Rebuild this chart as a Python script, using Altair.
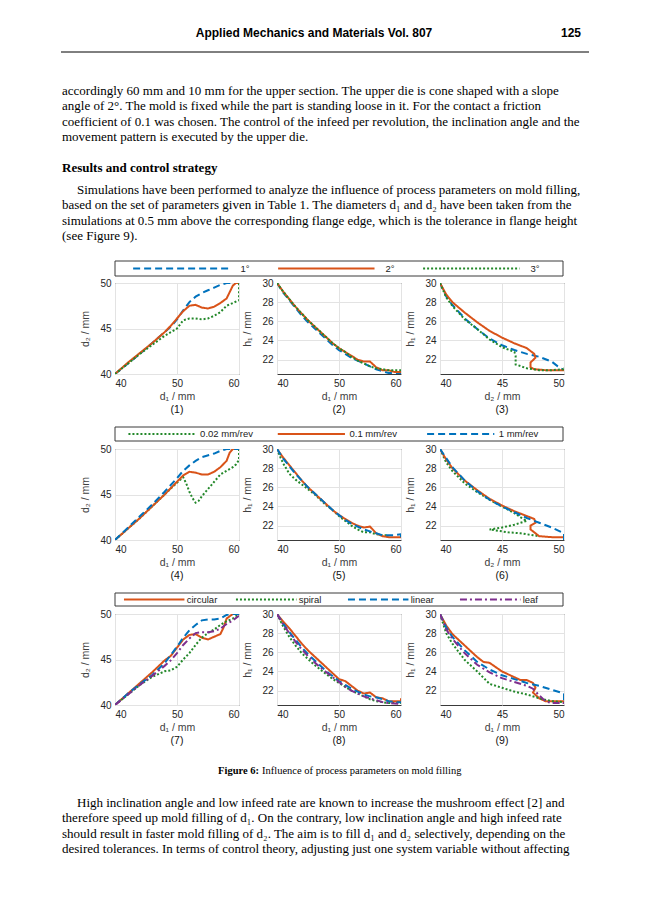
import altair as alt
import pandas as pd

SANS = "Liberation Sans"
SERIF = "Liberation Serif"

# ---------------- page text ----------------
HEADER = "Applied Mechanics and Materials Vol. 807"
PAGE_NO = "125"
PARA1 = [
    "accordingly 60 mm and 10 mm for the upper section. The upper die is cone shaped with a slope",
    "angle of 2°. The mold is fixed while the part is standing loose in it. For the contact a friction",
    "coefficient of 0.1 was chosen. The control of the infeed per revolution, the inclination angle and the",
    "movement pattern is executed by the upper die.",
]
HEADING = "Results and control strategy"
PARA2_FIRST = "Simulations have been performed to analyze the influence of process parameters on mold filling,"
PARA2_REST = [
    "based on the set of parameters given in Table 1. The diameters d₁ and d₂ have been taken from the",
    "simulations at 0.5 mm above the corresponding flange edge, which is the tolerance in flange height",
    "(see Figure 9).",
]
CAPTION_BOLD = "Figure 6:"
CAPTION_TEXT = "Influence of process parameters on mold filling"
PARA3_FIRST = "High inclination angle and low infeed rate are known to increase the mushroom effect [2] and"
PARA3_REST = [
    "therefore speed up mold filling of d₁. On the contrary, low inclination angle and high infeed rate",
    "should result in faster mold filling of d₂. The aim is to fill d₁ and d₂ selectively, depending on the",
    "desired tolerances. In terms of control theory, adjusting just one system variable without affecting",
]

# ---------------- legends ----------------
ANGLES = ["1°", "2°", "3°"]
INFEEDS = ["0.02 mm/rev", "0.1 mm/rev", "1 mm/rev"]
PATTERNS = ["circular", "spiral", "linear", "leaf"]

# ---------------- axis ticks ----------------
D1_TICKS = [40, 50, 60]
D2_TICKS = [40, 45, 50]
H1_TICKS = [22, 24, 26, 28, 30]

# ---------------- curves (x, y) ----------------
# (1) d2 over d1, inclination angle
P1_1DEG = [(40, 40), (42, 41.1), (44, 42.2), (46, 43.4), (48, 44.6), (49, 45.2), (50, 46.0), (51, 47.0),
           (52, 47.9), (53, 48.5), (54, 48.9), (55, 49.2), (56, 49.5), (57, 49.8), (58, 50.0), (60, 50.0)]
P1_2DEG = [(40, 40), (42, 41.2), (44, 42.3), (46, 43.4), (48, 44.6), (49, 45.3), (50, 46.1), (51, 46.9),
           (52, 47.5), (53, 47.6), (54, 47.3), (55, 47.2), (56, 47.4), (57, 47.8), (58, 48.3), (58.5, 49.0),
           (59, 49.7), (59.5, 50.0), (60, 50.0)]
P1_3DEG = [(40, 40), (42, 41.1), (44, 42.2), (46, 43.2), (48, 44.2), (49, 44.6), (50, 45.0), (51, 45.9),
           (52, 46.1), (53, 46.1), (54, 46.0), (55, 46.1), (56, 46.4), (57, 46.8), (58, 47.5), (59, 47.8),
           (60, 48.1), (60, 49.2), (60, 50.0)]
# (2) h1 over d1, inclination angle
P2_1DEG = [(40, 30), (41, 29.0), (42, 28.2), (43, 27.4), (44, 26.6), (45, 25.9), (46, 25.3), (47, 24.7),
           (48, 24.1), (49, 23.5), (50, 23.0), (51, 22.6), (52, 22.2), (53, 21.9), (54, 21.6), (55, 21.3),
           (56, 21.0), (57, 20.8), (58, 20.6), (60, 20.6)]
P2_2DEG = [(40, 30), (41, 29.1), (42, 28.3), (43, 27.5), (44, 26.8), (45, 26.1), (46, 25.5), (47, 24.9),
           (48, 24.3), (49, 23.7), (50, 23.2), (51, 22.8), (52, 22.4), (53, 22.0), (54, 21.8), (55, 21.8),
           (56, 21.2), (57, 20.9), (58, 20.9), (59, 20.7), (60, 20.7)]
P2_3DEG = [(40, 30), (41, 29.1), (42, 28.3), (43, 27.5), (44, 26.8), (45, 26.1), (46, 25.5), (47, 24.9),
           (48, 24.3), (49, 23.7), (50, 23.2), (51, 22.8), (52, 22.3), (53, 21.9), (54, 21.6), (55, 21.3),
           (56, 21.1), (57, 21.0), (58, 20.9), (60, 20.9), (60, 21.1)]
# (3) h1 over d2, inclination angle
P3_1DEG = [(40, 30), (40.5, 28.6), (41, 27.7), (42, 26.3), (43, 25.2), (44, 24.2), (45, 23.5), (46, 23.0),
           (47, 22.6), (48, 22.3), (49, 21.8), (49.5, 21.3), (50, 20.9)]
P3_2DEG = [(40, 30), (40.5, 28.8), (41, 28.0), (42, 26.9), (43, 25.9), (44, 25.0), (45, 24.3), (46, 23.7),
           (47, 23.2), (47.3, 22.9), (47.6, 22.6), (47.7, 22.2), (47.3, 21.7), (47.3, 21.2), (47.6, 21.0),
           (48.5, 20.9), (50, 20.9)]
P3_3DEG = [(40, 30), (40.5, 28.5), (41, 27.6), (42, 26.2), (43, 25.2), (44, 24.1), (45, 23.3), (46, 22.8),
           (46.1, 22.4), (46.1, 21.5), (47, 21.1), (48, 20.9), (49, 20.9), (50, 21.0), (50, 21.2)]
# (4) d2 over d1, infeed
P4_002 = [(40, 40), (42, 41.2), (44, 42.4), (46, 43.7), (48, 45.0), (50, 46.3), (51, 46.9), (51.5, 46.2),
          (52, 45.3), (52.5, 44.6), (53, 44.1), (53.5, 44.3), (54, 44.8), (55, 45.6), (56, 46.4), (57, 47.2),
          (58, 47.6), (59, 48.0), (59.5, 48.3), (60, 48.8), (60, 50)]
P4_01 = [(40, 40), (42, 41.2), (44, 42.4), (46, 43.7), (48, 45.0), (50, 46.4), (51, 47.1), (52, 47.5),
         (53, 47.4), (54, 47.2), (55, 47.2), (56, 47.5), (57, 48.0), (58, 48.7), (58.5, 49.6), (59, 50),
         (60, 50)]
P4_1 = [(40, 40), (42, 41.3), (44, 42.6), (46, 43.9), (48, 45.3), (50, 46.8), (51, 47.6), (52, 48.2),
        (53, 48.7), (54, 49.1), (56, 49.5), (57, 49.8), (58, 50), (60, 50)]
# (5) h1 over d1, infeed
P5_002 = [(40, 30), (40.5, 29.2), (41, 28.5), (42, 27.4), (43, 26.8), (44, 26.3), (45, 25.8), (46, 25.3),
          (47, 24.7), (48, 24.1), (49, 23.6), (50, 23.0), (51, 22.5), (52, 22.0), (53, 21.6), (54, 21.3),
          (55, 21.3), (56, 21.1), (57, 21.0), (58, 21.0)]
P5_01 = [(40, 30), (41, 29.1), (42, 28.3), (43, 27.5), (44, 26.7), (45, 26.0), (46, 25.4), (47, 24.8),
         (48, 24.2), (49, 23.6), (50, 23.1), (51, 22.7), (52, 22.3), (53, 22.0), (54, 21.8), (55, 21.9),
         (56, 21.2), (57, 20.9), (58, 20.8), (60, 20.8)]
P5_1 = [(40, 30), (41, 29.0), (42, 28.2), (43, 27.4), (44, 26.7), (45, 26.0), (46, 25.4), (47, 24.8),
        (48, 24.2), (49, 23.6), (50, 23.1), (51, 22.6), (52, 22.2), (53, 21.9), (54, 21.6), (55, 21.4),
        (56, 21.2), (57, 21.0), (58, 21.0), (59, 21.0), (60, 21.1), (60, 20.6)]
# (6) h1 over d2, infeed
P6_002 = [(40, 30), (40.5, 28.6), (41, 27.7), (42, 26.4), (43, 25.5), (44, 24.7), (45, 24.0), (46, 23.3),
          (46.7, 22.7), (47, 22.5), (46, 22.1), (45, 21.8), (44, 21.6), (44.5, 21.5), (45.5, 21.3),
          (46.5, 21.2), (47.5, 21.0), (48, 20.9)]
P6_01 = [(40, 30), (40.5, 28.9), (41, 28.0), (42, 26.7), (43, 25.7), (44, 24.8), (45, 24.1), (46, 23.5),
         (47, 23.0), (47.6, 22.7), (47.7, 22.3), (47.3, 22.0), (47.3, 21.6), (47.7, 21.2), (48, 20.9),
         (49, 20.8), (50, 20.8)]
P6_1 = [(40, 30), (41, 28.1), (42, 26.7), (43, 25.6), (44, 24.7), (45, 24.0), (46, 23.4), (47, 22.8),
        (48, 22.3), (49, 21.8), (50, 21.2), (50, 20.5)]
# (7) d2 over d1, movement pattern
P7_CIRC = [(40, 40), (42, 41.2), (44, 42.4), (46, 43.6), (48, 44.9), (49, 45.4), (50, 46.3), (51, 47.2),
           (52, 47.7), (53, 47.8), (54, 47.4), (55, 47.2), (56, 47.5), (57, 47.8), (57.5, 48.5), (58, 49.5),
           (59, 50), (60, 50)]
P7_SPIR = [(40, 40), (42, 41.1), (44, 42.2), (46, 43.1), (47, 43.4), (48, 43.7), (49, 43.8), (50, 44.2),
           (51, 45.0), (52, 45.7), (53, 46.6), (54, 47.4), (55, 47.9), (56, 48.3), (57, 48.8), (58, 49.2),
           (59, 49.5), (60, 50)]
P7_LIN = [(40, 40), (42, 41.2), (44, 42.3), (46, 43.3), (48, 44.6), (50, 46.4), (51, 47.4), (52, 48.2),
          (53, 48.8), (54, 49.3), (55, 49.4), (56, 49.4), (57, 49.5), (58, 49.9), (59, 50), (60, 50)]
P7_LEAF = [(40, 40), (42, 41.1), (44, 42.2), (46, 43.2), (48, 44.3), (49, 44.9), (50, 45.7), (51, 46.6),
           (52, 47.3), (53, 47.9), (54, 48.0), (55, 48.0), (56, 48.1), (57, 48.4), (58, 48.9), (59, 49.3),
           (60, 49.8)]
# (8) h1 over d1, movement pattern
P8_CIRC = [(40, 30), (41, 29.2), (42, 28.5), (43, 27.7), (44, 26.9), (45, 26.2), (46, 25.6), (47, 25.0),
           (48, 24.4), (49, 23.8), (50, 23.2), (51, 23.0), (52, 22.5), (53, 22.0), (54, 21.7), (55, 21.8),
           (56, 21.3), (57, 21.2), (58, 20.9), (59, 20.9), (60, 20.9), (60, 21.2)]
P8_SPIR = [(40, 30), (41, 28.7), (42, 27.6), (43, 26.7), (44, 25.9), (45, 25.3), (46, 24.7), (47, 24.2),
           (48, 23.7), (49, 23.2), (50, 22.8), (51, 22.4), (52, 22.0), (53, 21.7), (54, 21.4), (55, 21.1),
           (56, 20.9), (57, 20.8), (58, 20.7), (60, 20.7)]
P8_LIN = [(40, 30), (41, 29.0), (42, 28.1), (43, 27.3), (44, 26.5), (45, 25.8), (46, 25.2), (47, 24.6),
          (48, 24.0), (49, 23.5), (50, 23.0), (51, 22.6), (52, 22.2), (53, 21.9), (54, 21.6), (55, 21.4),
          (56, 21.3), (57, 21.1), (58, 20.9), (59, 20.8), (60, 20.8)]
P8_LEAF = [(40, 30), (41, 28.9), (42, 28.0), (43, 27.1), (44, 26.3), (45, 25.6), (46, 25.0), (47, 24.4),
           (48, 23.9), (49, 23.4), (50, 22.9), (51, 22.4), (52, 22.0), (53, 21.7), (54, 21.4), (55, 21.2),
           (56, 21.0), (57, 20.8), (58, 20.7), (60, 20.6)]
# (9) h1 over d2, movement pattern
P9_CIRC = [(40, 30), (40.5, 28.8), (41, 27.9), (42, 26.7), (43, 25.5), (43.5, 25.0), (44, 24.9), (45, 24.0),
           (46, 23.4), (46.5, 23.1), (47, 23.1), (47.5, 22.8), (47.7, 22.3), (47.5, 21.8), (48, 21.2),
           (48.5, 20.9), (49, 20.9), (50, 20.9)]
P9_SPIR = [(40, 30), (40.5, 28.0), (41, 26.9), (42, 25.2), (43, 24.0), (44, 22.7), (45, 22.3), (46, 21.9),
           (47, 21.6), (48, 21.2), (49, 20.9), (50, 20.8)]
P9_LIN = [(40, 30), (40.5, 28.6), (41, 27.6), (42, 26.2), (43, 25.0), (44, 24.2), (45, 23.6), (46, 23.2),
          (47, 22.8), (48, 22.5), (49, 22.1), (50, 21.7), (50, 20.8)]
P9_LEAF = [(40, 30), (40.5, 28.4), (41, 27.4), (42, 25.9), (43, 24.7), (44, 23.9), (45, 23.3), (46, 22.9),
           (47, 22.5), (47.5, 22.2), (48, 21.5), (48.5, 20.9), (49, 20.7), (50, 20.7)]

# ---------------- styles ----------------
BLUE, ORANGE, GREEN, PURPLE = "#0072BD", "#D95319", "#23882A", "#7E2F8E"
DASHED, SOLID, DOTTED, DASHDOT = [7, 4], [1, 0], [2, 2], [7, 3, 2, 3]
ANGLE_STYLE = ([BLUE, ORANGE, GREEN], [DASHED, SOLID, DOTTED])
INFEED_STYLE = ([GREEN, ORANGE, BLUE], [DOTTED, SOLID, DASHED])
PATTERN_STYLE = ([ORANGE, GREEN, BLUE, PURPLE], [SOLID, DOTTED, DASHED, DASHDOT])

FRAME = alt.ViewBackground(stroke="#3a3a3a", strokeWidth=1)
ONE = pd.DataFrame({"k": [0]})
COLS = [54, 124, 38, 124, 39, 124]   # grid column widths (px)
LEG_W = 448


def curves(names, series):
    rows = []
    for name, pts in zip(names, series):
        for i, (x, y) in enumerate(pts):
            rows.append({"series": name, "x": x, "y": y, "i": i})
    return pd.DataFrame(rows)


def plot(names, style, series, xdom, xticks, xtitle, ydom, yticks, ytitle, label):
    colors, dashes = style
    return alt.Chart(curves(names, series)).mark_line(strokeWidth=2, clip=True).encode(
        x=alt.X("x:Q", scale=alt.Scale(domain=xdom, nice=False, zero=False),
                axis=alt.Axis(values=xticks, title=xtitle, format="d", titlePadding=3)),
        y=alt.Y("y:Q", scale=alt.Scale(domain=ydom, nice=False, zero=False),
                axis=alt.Axis(values=yticks, title=ytitle, format="d", titlePadding=9)),
        color=alt.Color("series:N", scale=alt.Scale(domain=names, range=colors), legend=None),
        strokeDash=alt.StrokeDash("series:N", scale=alt.Scale(domain=names, range=dashes), legend=None),
        order="i:Q",
    ).properties(
        width=124, height=91, view=FRAME,
        title=alt.TitleParams(label, orient="bottom", offset=3, font=SANS, fontSize=10.5,
                              fontWeight="normal", color="#111"),
    )


def legend(names, style, height, pouter, b0, b1, bl):
    colors, dashes = style
    df = pd.DataFrame({"series": names})
    xs = alt.Scale(domain=names, range=[0, LEG_W], paddingInner=0, paddingOuter=pouter)
    col = alt.Color("series:N", scale=alt.Scale(domain=names, range=colors), legend=None)
    dash = alt.StrokeDash("series:N", scale=alt.Scale(domain=names, range=dashes), legend=None)
    box = alt.Chart(ONE).mark_rect(fill="transparent", stroke="#3a3a3a", strokeWidth=1).encode(
        x=alt.value(0), x2=alt.value(LEG_W), y=alt.value(0), y2=alt.value(height))
    rule = alt.Chart(df).mark_rule(strokeWidth=2).encode(
        x=alt.X("series:N", scale=xs, axis=None, bandPosition=b0),
        x2=alt.X2("series", bandPosition=b1),
        y=alt.value(height / 2), color=col, strokeDash=dash)
    text = alt.Chart(df).mark_text(align="left", baseline="middle", font=SANS, fontSize=9.5,
                                   color="#222").encode(
        x=alt.X("series:N", scale=xs, axis=None, bandPosition=bl),
        y=alt.value(height / 2), text="series:N")
    return alt.layer(box, rule, text).properties(width=COLS[1], height=height)


def blank(w=1, h=1):
    return alt.Chart(ONE).mark_text(text="", baseline="top", align="left", fontSize=1).encode(
        x=alt.value(0), y=alt.value(0)).properties(width=w, height=h)


def txt(lines, x, y, font=SERIF, size=13, weight="normal", align="left", lh=15.6):
    return alt.Chart(ONE).mark_text(text=lines, font=font, fontSize=size, fontWeight=weight, align=align,
                                    baseline="alphabetic", lineHeight=lh, color="black").encode(
        x=alt.value(x), y=alt.value(y))


top_rule = alt.Chart(ONE).mark_rule(color="black", strokeWidth=1).encode(
    x=alt.value(0), x2=alt.value(528), y=alt.value(44))
top_text = alt.layer(
    txt(HEADER, 253, 29, font=SANS, size=12, weight="bold", align="center"),
    txt(PAGE_NO, 520, 29, font=SANS, size=12, weight="bold", align="right"),
    top_rule,
    txt(PARA1, 1, 86.5),
    txt(HEADING, 1, 164, weight="bold"),
    txt(PARA2_FIRST, 16, 185.5),
    txt(PARA2_REST, 1, 201.1),
).properties(width=COLS[0], height=253)

bottom_text = alt.layer(
    txt(CAPTION_BOLD, 198, 68.5, size=10.5, weight="bold", align="right"),
    txt(CAPTION_TEXT, 201, 68.5, size=10.5),
    txt(PARA3_FIRST, 16, 101.5),
    txt(PARA3_REST, 1, 117.1),
).properties(width=COLS[0], height=175)

D1, D2, H1 = "d₁ / mm", "d₂ / mm", "h₁ / mm"
DX1, DX2, HY = [40, 60], [40, 50], [20.5, 30]
DY = [40, 50]

p1 = plot(ANGLES, ANGLE_STYLE, [P1_1DEG, P1_2DEG, P1_3DEG], DX1, D1_TICKS, D1, DY, D2_TICKS, D2, "(1)")
p2 = plot(ANGLES, ANGLE_STYLE, [P2_1DEG, P2_2DEG, P2_3DEG], DX1, D1_TICKS, D1, HY, H1_TICKS, H1, "(2)")
p3 = plot(ANGLES, ANGLE_STYLE, [P3_1DEG, P3_2DEG, P3_3DEG], DX2, D2_TICKS, D2, HY, H1_TICKS, H1, "(3)")
p4 = plot(INFEEDS, INFEED_STYLE, [P4_002, P4_01, P4_1], DX1, D1_TICKS, D1, DY, D2_TICKS, D2, "(4)")
p5 = plot(INFEEDS, INFEED_STYLE, [P5_002, P5_01, P5_1], DX1, D1_TICKS, D1, HY, H1_TICKS, H1, "(5)")
p6 = plot(INFEEDS, INFEED_STYLE, [P6_002, P6_01, P6_1], DX2, D2_TICKS, D2, HY, H1_TICKS, H1, "(6)")
p7 = plot(PATTERNS, PATTERN_STYLE, [P7_CIRC, P7_SPIR, P7_LIN, P7_LEAF], DX1, D1_TICKS, D1, DY, D2_TICKS, D2, "(7)")
p8 = plot(PATTERNS, PATTERN_STYLE, [P8_CIRC, P8_SPIR, P8_LIN, P8_LEAF], DX1, D1_TICKS, D1, HY, H1_TICKS, H1, "(8)")
p9 = plot(PATTERNS, PATTERN_STYLE, [P9_CIRC, P9_SPIR, P9_LIN, P9_LEAF], DX2, D2_TICKS, D1, HY, H1_TICKS, H1, "(9)")

leg1 = legend(ANGLES, ANGLE_STYLE, 15, 0.045, 0.08, 0.745, 0.82)
leg2 = legend(INFEEDS, INFEED_STYLE, 14, 0.0, 0.09, 0.54, 0.57)
leg3 = legend(PATTERNS, PATTERN_STYLE, 13, 0.0, 0.08, 0.62, 0.64)


def row(items):
    return items + [blank() for _ in range(6 - len(items))]


def gap(h):
    return row([blank(1, h)])


def plots_row(a, b, c):
    return [blank(COLS[0]), a, blank(COLS[2]), b, blank(COLS[4]), c]


grid = (
    row([top_text])
    + row([blank(COLS[0]), leg1]) + gap(7)
    + plots_row(p1, p2, p3)
    + gap(53)
    + row([blank(COLS[0]), leg2]) + gap(8)
    + plots_row(p4, p5, p6)
    + gap(53)
    + row([blank(COLS[0]), leg3]) + gap(8)
    + plots_row(p7, p8, p9)
    + row([bottom_text])
)

chart = alt.concat(
    *grid, columns=6, spacing=0, bounds="flush", align="each",
).resolve_scale(
    color="independent", strokeDash="independent",
).properties(
    padding={"left": 52, "top": 0, "right": 0, "bottom": 0},
).configure_view(stroke=None).configure_axis(
    labelFont=SANS, labelFontSize=10, labelColor="#262626", labelPadding=4,
    titleFont=SANS, titleFontSize=10.5, titleFontWeight="normal", titleColor="#404040",
    grid=True, gridColor="#e3e3e3", gridWidth=1, domain=False, ticks=False, labelOverlap=False,
)

chart.save("out.html", embed_options={"renderer": "svg", "actions": False})
